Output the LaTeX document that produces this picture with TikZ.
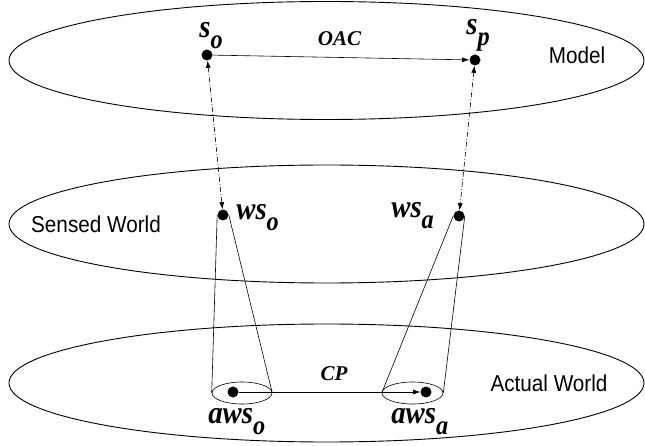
\documentclass[tikz,border=0pt]{standalone}
\usepackage{fontspec}
\usepackage{graphicx}
\setmainfont{Liberation Serif}
\newfontfamily\arialf{Liberation Sans}
\usetikzlibrary{shapes.geometric,arrows.meta}
\newcommand{\stlab}[2]{\scalebox{0.9}[1]{#1\raisebox{-11pt}{\fontsize{27}{27}\selectfont #2}}}
\newcommand{\laylab}[1]{\scalebox{0.9}[1]{#1}}

\begin{document}
\begin{tikzpicture}[x=1pt,y=-1pt,semithick]
    \tikzset{world/.style={draw=black,ellipse,line width=0.9pt,inner sep=0pt,minimum width=635pt,minimum height=118pt}};
    \tikzset{cup/.style={draw=black,ellipse,line width=0.6pt,inner sep=0pt,minimum width=60pt,minimum height=22pt}};
    \tikzset{pt/.style={fill=black,circle,minimum size=11pt,inner sep=0pt}};
    \tikzset{st/.style={inner sep=0pt,anchor=base west,font=\fontsize{32}{32}\selectfont\bfseries\itshape}};
    \tikzset{rel/.style={inner sep=0pt,font=\fontsize{21}{21}\selectfont\bfseries\itshape}};
    \tikzset{lay/.style={inner sep=0pt,font=\fontsize{23}{23}\selectfont\arialf}};
    \tikzset{tip/.style={-{Latex[length=7pt,width=5pt]}}};
    \useasboundingbox (0,0) rectangle (645,446);
    % the three layers
    \node[world] (model) at (326.5,60.5) {};
    \node[world] (sensed) at (326.5,224) {};
    \node[world] (actual) at (326.5,383) {};
    \node[lay] (lmodel) at (577,55) {\laylab{Model}};
    \node[lay] (lsensed) at (96,224) {\laylab{Sensed World}};
    \node[lay] (lactual) at (549,383) {\laylab{Actual World}};
    % states
    \node[pt] (so) at (207,55) {};
    \node[pt] (sp) at (475,60) {};
    \node[pt] (wso) at (223,215) {};
    \node[pt] (wsa) at (459,216) {};
    \node[cup] (cupo) at (242,393) {};
    \node[cup, minimum width=61pt] (cupa) at (412.5,393) {};
    \node[pt] (awso) at (233,392) {};
    \node[pt] (awsa) at (426,392) {};
    \node[st] (lso) at (199,38) {\stlab{s}{o}};
    \node[st] (lsp) at (466,35) {\stlab{s}{p}};
    \node[st] (lwso) at (236,220) {\stlab{ws}{o}};
    \node[st] (lwsa) at (391,218) {\stlab{ws}{a}};
    \node[st] (lawso) at (208,423) {\stlab{aws}{o}};
    \node[st] (lawsa) at (391,423) {\stlab{aws}{a}};
    \node[rel] (oac) at (339.5,38.5) {OAC};
    \node[rel] (cp) at (334,373.5) {CP};
    {
      \path[tip]
        (so) edge (sp)
        (awso) edge (awsa)
        ;
      \path[{Latex[length=7pt,width=5pt]}-{Latex[length=7pt,width=5pt]}, line width=0.6pt, dash pattern=on 5pt off 2pt on 1pt off 2pt]
        (so) edge (wso)
        (sp) edge (wsa)
        ;
      \path[line width=0.6pt]
        (wso.west) edge (cupo.west)
        (wso.east) edge (cupo.east)
        (wsa.west) edge (cupa.west)
        (wsa.east) edge (cupa.east)
        ;
    }
\end{tikzpicture}
\end{document}
